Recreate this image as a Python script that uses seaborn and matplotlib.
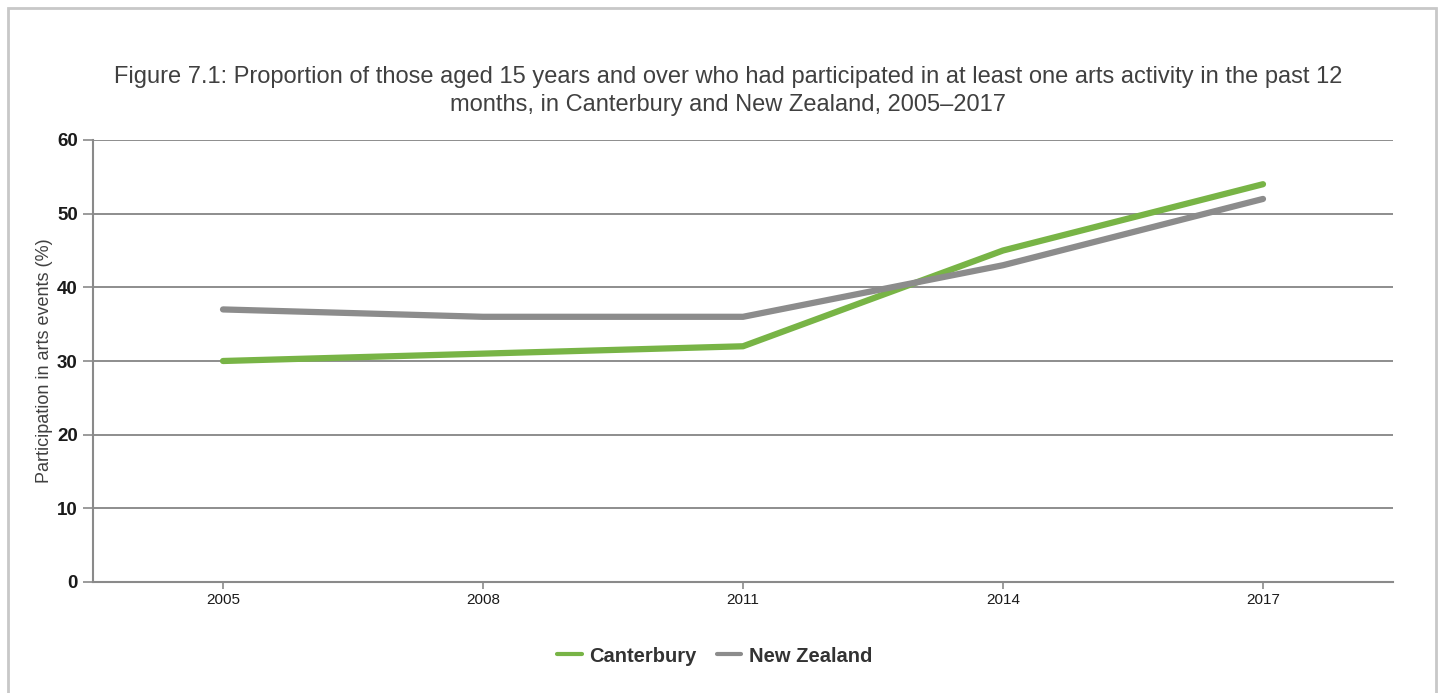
import matplotlib
matplotlib.use("Agg")
import matplotlib.pyplot as plt
import seaborn as sns
import pandas as pd
from matplotlib.patches import Rectangle
from matplotlib.lines import Line2D

years = ["2005", "2008", "2011", "2014", "2017"]
canterbury = [30, 31, 32, 45, 54]
new_zealand = [37, 36, 36, 43, 52]
series_names = ["Canterbury", "New Zealand"]
colors = {"Canterbury": "#78b446", "New Zealand": "#8c8c8c"}

df = pd.DataFrame({
    "year": years * 2,
    "value": canterbury + new_zealand,
    "series": [series_names[0]] * len(years) + [series_names[1]] * len(years),
})
df["pos"] = [i for i in range(len(years))] * 2

sns.set_theme(style="white")
plt.rcParams["font.family"] = ["Liberation Sans", "DejaVu Sans"]

W, H = 1441, 693
fig = plt.figure(figsize=(W / 100, H / 100), dpi=100)
ax = fig.add_axes([93 / W, 1 - 582 / H, (1393 - 93) / W, (582 - 140) / H])

sns.lineplot(data=df, x="pos", y="value", hue="series", palette=colors,
             linewidth=4.5, ax=ax, legend=False, sort=False, zorder=3)

ax.set_xlim(-0.5, len(years) - 0.5)
ax.set_ylim(0, 60)
ax.set_yticks(range(0, 61, 10))
ax.set_xticks(range(len(years)))
ax.set_xticklabels(years)
ax.grid(axis="y", color="#7a7a7a", linewidth=1.2, zorder=0)
ax.grid(axis="x", visible=False)
for s in ["top", "right"]:
    ax.spines[s].set_visible(False)
for s in ["left", "bottom"]:
    ax.spines[s].set_color("#8a8a8a")
    ax.spines[s].set_linewidth(1.5)
ax.tick_params(axis="y", which="major", length=7, width=1.2, color="#8a8a8a",
               pad=4, left=True)
ax.tick_params(axis="x", which="major", length=5, width=1.2, color="#8a8a8a",
               pad=3, bottom=True)
for lab in ax.get_yticklabels():
    lab.set_fontweight("bold")
    lab.set_fontsize(13.5)
    lab.set_color("#1a1a1a")
for lab in ax.get_xticklabels():
    lab.set_fontsize(11)
    lab.set_color("#1a1a1a")
ax.set_xlabel("")
ax.set_ylabel("Participation in arts events (%)", fontsize=13, color="#404040")
ax.yaxis.set_label_coords((53 - 93) / 1300, 0.5)

fig.text(728 / W, 1 - 91 / H,
         "Figure 7.1: Proportion of those aged 15 years and over who had participated in at least one arts activity in the past 12\nmonths, in Canterbury and New Zealand, 2005\u20132017",
         ha="center", va="center", fontsize=17, color="#404040", linespacing=1.32)

handles = [Line2D([0], [0], color=colors[n], linewidth=3) for n in series_names]
leg = fig.legend(handles, series_names, loc="center", bbox_to_anchor=(715 / W, 1 - 656 / H),
                 ncol=2, frameon=False, handlelength=1.2, handletextpad=0.4,
                 columnspacing=1.0, prop={"weight": "bold", "size": 14.5})
for t in leg.get_texts():
    t.set_color("#333333")

fig.patches.append(Rectangle((8 / W, -0.05), (1436 - 8) / W, 1 - 8 / H + 0.05,
                             transform=fig.transFigure, fill=False,
                             edgecolor="#c8c8c8", linewidth=2))

fig.savefig("out.png", dpi=100)
